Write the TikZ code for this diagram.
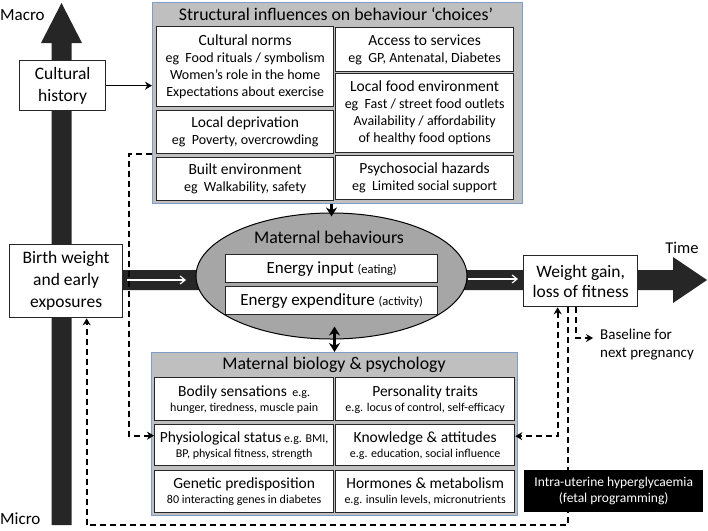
\documentclass[tikz,border=0pt]{standalone}
\usepackage{fontspec}
\setmainfont{Carlito}
\usetikzlibrary{arrows.meta,shapes.geometric}
\definecolor{axisc}{HTML}{262626}
\definecolor{panelfill}{HTML}{BFBFBF}
\definecolor{paneledge}{HTML}{7E9CC9}
\definecolor{ellfill}{HTML}{A6A6A6}
\newcommand{\fsz}[2]{\fontsize{#1}{#2}\selectfont}
\begin{document}
\begin{tikzpicture}[x=1pt,y=-1pt,
  panel/.style={draw=paneledge, line width=1.2pt, fill=panelfill, anchor=north west, inner sep=0pt},
  ibox/.style={draw=black!85, line width=1.3pt, fill=white, anchor=north west, align=center, inner sep=0pt},
  topbox/.style={ibox, font=\fsz{14}{17}},
  botbox/.style={ibox, font=\fsz{12}{15}},
  mainbox/.style={ibox, font=\fsz{17.5}{22}},
  title/.style={font=\fsz{17.8}{21}, inner sep=0pt},
  thickarr/.style={line width=2.6pt, -{Stealth[length=9pt,width=11pt]}},
  dasharr/.style={line width=2pt, dash pattern=on 6pt off 4pt, -{Stealth[length=7pt,width=8pt]}},
  plainarr/.style={line width=1.4pt, -{Stealth[length=7pt,width=8pt]}},
  whitearr/.style={draw=white, line width=1.2pt, -{Straight Barb[length=5pt,width=8pt]}}
]
\useasboundingbox (0,0) rectangle (708,530);

% axes
\fill[axisc] (51.5,525) -- (51.5,43) -- (41,43) -- (61.5,3) -- (82,43) -- (71.5,43) -- (71.5,525) -- cycle;
\fill[axisc] (122,270) -- (673,270) -- (673,257) -- (707,280) -- (673,303) -- (673,290) -- (122,290) -- cycle;
\draw[whitearr] (127,280) -- (186,280);
\draw[whitearr] (468,279) -- (518,279);

\node[font=\fsz{17}{20}, anchor=west, inner sep=0pt] (macro) at (0,15) {Macro};
\node[font=\fsz{17}{20}, anchor=west, inner sep=0pt] (micro) at (0,519) {Micro};
\node[font=\fsz{16.5}{20}, inner sep=0pt] (time) at (682,248) {Time};

% left boxes
\node[mainbox, minimum width=86, minimum height=50] (history) at (19,60) {Cultural\\history};
\node[mainbox, minimum width=113, minimum height=73] (birth) at (9,244) {Birth weight\\and early\\exposures};
\node[mainbox, minimum width=114, minimum height=51, font=\fsz{17.5}{20}] (weight) at (523,255) {Weight gain,\\loss of fitness};

% structural panel
\node[panel, minimum width=370, minimum height=201] (structural) at (152,2) {};
\node[title] (structitle) at (336,14) {Structural influences on behaviour ‘choices’};
\node[topbox, minimum width=177, minimum height=80] (cultnorms) at (156,26)
  {{\fsz{15.5}{18}Cultural norms}\\eg~ Food rituals / symbolism\\Women’s role in the home\\Expectations about exercise};
\node[topbox, minimum width=177, minimum height=43] (depriv) at (156,110)
  {{\fsz{15.5}{18}Local deprivation}\\eg~ Poverty, overcrowding};
\node[topbox, minimum width=177, minimum height=43] (built) at (156,157)
  {{\fsz{15.5}{18}Built environment}\\eg~ Walkability, safety};
\node[topbox, minimum width=178, minimum height=44] (access) at (335,27)
  {{\fsz{15.5}{18}Access to services}\\eg~ GP, Antenatal, Diabetes};
\node[topbox, minimum width=178, minimum height=79] (food) at (335,73)
  {{\fsz{15.5}{18}Local food environment}\\eg~ Fast / street food outlets\\Availability / affordability\\of healthy food options};
\node[topbox, minimum width=178, minimum height=44] (psycho) at (335,155)
  {{\fsz{15.5}{18}Psychosocial hazards}\\eg~ Limited social support};

% ellipse
\node[ellipse, draw=black, line width=1pt, fill=ellfill, minimum width=271, minimum height=126] (behav) at (331.5,276) {};
\node[title] (behavtitle) at (329,237) {Maternal behaviours};
\node[ibox, minimum width=212, minimum height=28, font=\fsz{17}{20}] (input) at (225,254)
  {Energy input {\fsz{12.5}{15}(eating)}};
\node[ibox, minimum width=212, minimum height=28, font=\fsz{17}{20}] (output) at (225,286)
  {Energy expenditure {\fsz{12.5}{15}(activity)}};

% biology panel
\node[panel, minimum width=366, minimum height=163] (biology) at (151,352) {};
\node[title] (biotitle) at (334,365) {Maternal biology \& psychology};
\node[botbox, minimum width=179, minimum height=43] (bodily) at (154,377)
  {{\fsz{15.5}{18}Bodily sensations}~ e.g.\\hunger, tiredness, muscle pain};
\node[botbox, minimum width=179, minimum height=43] (personality) at (335,377)
  {{\fsz{15.5}{18}Personality traits}\\e.g. locus of control, self-efficacy};
\node[botbox, minimum width=179, minimum height=41] (physio) at (154,424)
  {{\fsz{15.5}{18}Physiological status} e.g. BMI,\\BP, physical fitness, strength};
\node[botbox, minimum width=179, minimum height=41] (knowledge) at (335,424)
  {{\fsz{15.5}{18}Knowledge \& attitudes}\\e.g. education, social influence};
\node[botbox, minimum width=179, minimum height=42] (genetic) at (154,470)
  {{\fsz{15.5}{18}Genetic predisposition}\\80 interacting genes in diabetes};
\node[botbox, minimum width=179, minimum height=42] (hormones) at (335,470)
  {{\fsz{15.5}{18}Hormones \& metabolism}\\e.g. insulin levels, micronutrients};

% solid connectors
\draw[plainarr] (history.east) -- (history.east -| structural.west);
\draw[thickarr] (structural.south -| behav.north) -- ([yshift=-4pt]behav.north);
\draw[line width=2.6pt, {Stealth[length=9pt,width=11pt]}-{Stealth[length=9pt,width=11pt]}] ([xshift=3pt,yshift=13pt]behav.south) -- ([xshift=3pt]behav.south |- biology.north);

% dashed connectors
\node[font=\fsz{15}{18}, anchor=west, align=left, inner sep=0pt] (baseline) at (600,345) {Baseline for\\next pregnancy};
\coordinate (basetip) at (593,338);
\draw[dasharr] ([yshift=-50.5pt]structural.west) -- ++(-23,0) |- ([yshift=9.5pt]physio.west);
\draw[dasharr, {Stealth[length=7pt,width=8pt]}-{Stealth[length=7pt,width=8pt]}] ([xshift=-23pt]weight.south) |- ([yshift=9pt]knowledge.east);
\draw[dasharr] ([xshift=-5pt]weight.south) |- (basetip);
\draw[dasharr] ([xshift=-12.5pt]weight.south) -- ++(0,218) -| ([xshift=20.5pt]birth.south);

\node[anchor=north west, fill=black, text=white, align=center, inner sep=0pt, minimum width=179, minimum height=42, font=\fsz{13.5}{16.5}] (fetal) at (524,470)
  {Intra-uterine hyperglycaemia\\(fetal programming)};
\end{tikzpicture}
\end{document}
